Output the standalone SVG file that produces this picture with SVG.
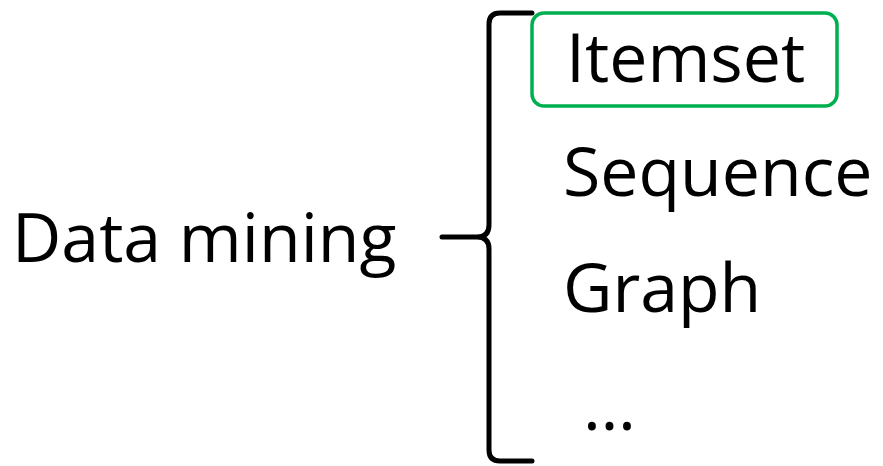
<svg xmlns="http://www.w3.org/2000/svg" width="883" height="466" viewBox="0 0 883 466">
<style>
text{font-family:"Open Sans","Noto Sans",sans-serif;font-size:68px;fill:#000}
.brace{fill:none;stroke:#000;stroke-width:5;stroke-linecap:round;stroke-linejoin:round}
.hl{fill:none;stroke:#00B050;stroke-width:3.5}
</style>
<rect width="883" height="466" fill="#fff"/>
<g id="root"><text x="12" y="262">Data mining</text></g>
<g id="connectors">
<path class="brace" d="M532,13 L500,13 Q489,13 489,24 L489,225 Q489,237 477,237 L442,237 M477,237 Q489,237 489,249 L489,450 Q489,461 500,461 L532,461"/>
</g>
<g id="itemset">
<rect class="hl" x="532" y="13" width="305" height="93" rx="12"/>
<text x="566" y="82">Itemset</text>
</g>
<g id="sequence"><text x="563" y="196">Sequence</text></g>
<g id="graph"><text x="563" y="312">Graph</text></g>
<g id="more"><text x="583" y="430">…</text></g>
</svg>
